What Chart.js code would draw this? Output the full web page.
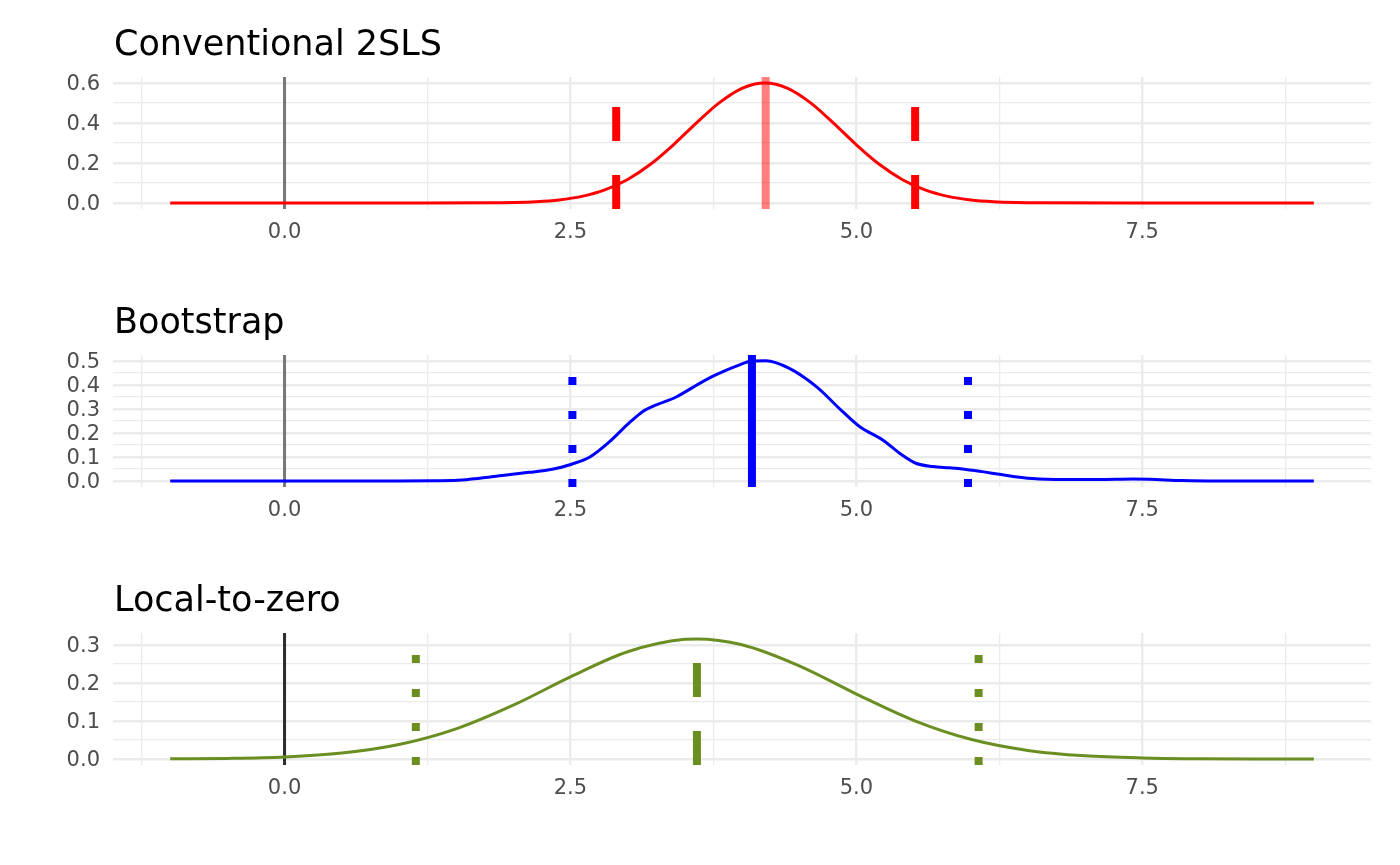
<!DOCTYPE html>
<html>
<head>
<meta charset="utf-8">
<script src="https://cdn.jsdelivr.net/npm/chart.js@4.4.1/dist/chart.umd.min.js"></script>
<style>
  body { margin: 0; background: #fff; }
  #wrap { position: relative; width: 1400px; height: 865px; }
  canvas { position: absolute; left: 0; }
</style>
</head>
<body>
<div id="wrap">
  <canvas id="c1" width="1400" height="278" style="top:0px"></canvas>
  <canvas id="c2" width="1400" height="278" style="top:278px"></canvas>
  <canvas id="c3" width="1400" height="309" style="top:556px"></canvas>
</div>
<script>
// ---- data ----
const xRange = [-1.5, 9.5];
const xTicks = [-1.25, 0, 1.25, 2.5, 3.75, 5, 6.25, 7.5, 8.75];
const xLabelled = [0, 2.5, 5, 7.5];

// Conventional 2SLS
const convX = [-1, 0, 1, 1.8, 2.0, 2.2, 2.4, 2.6, 2.8, 3.0, 3.2, 3.4, 3.6, 3.8, 4.0, 4.2,
               4.4, 4.6, 4.8, 5.0, 5.2, 5.4, 5.6, 5.8, 6.0, 6.2, 6.4, 6.6, 7.4, 8.2, 9];
const convY = [0, 0, 0, 0.0009, 0.0025, 0.0065, 0.0154, 0.0332, 0.0654, 0.1178, 0.1937, 0.291, 0.3994, 0.5007, 0.5735, 0.6,
               0.5735, 0.5007, 0.3994, 0.291, 0.1937, 0.1178, 0.0654, 0.0332, 0.0154, 0.0065, 0.0025, 0.0009, 0, 0, 0];
const convMid = 4.207;
const convCI = [2.90, 5.514];
const convYRange = [-0.03, 0.63];
const convYTicks = [0, 0.1, 0.2, 0.3, 0.4, 0.5, 0.6];
const convYLabelled = [0, 0.2, 0.4, 0.6];

// Bootstrap
const bootX = [-1, 0, 1.0, 1.3, 1.55, 1.85, 2.14, 2.34, 2.51, 2.67, 2.84, 3.02, 3.13, 3.25, 3.42, 3.63, 3.77, 3.95,
               4.09, 4.21, 4.41, 4.65, 4.88, 5.03, 5.23, 5.40, 5.52, 5.67, 5.81, 5.93, 6.10, 6.25, 6.54,
               6.83, 7.12, 7.42, 7.56, 7.85, 8.14, 9];
const bootY = [0, 0, 0, 0.001, 0.004, 0.02, 0.036, 0.049, 0.07, 0.10, 0.163, 0.245, 0.289, 0.317, 0.349, 0.407, 0.442, 0.479,
               0.50, 0.501, 0.47, 0.393, 0.289, 0.226, 0.171, 0.108, 0.074, 0.06, 0.055, 0.05, 0.039, 0.028, 0.010,
               0.006, 0.006, 0.008, 0.007, 0.002, 0, 0];
const bootMid = 4.087;
const bootCI = [2.517, 5.976];
const bootYRange = [-0.025, 0.525];
const bootYTicks = [0, 0.05, 0.1, 0.15, 0.2, 0.25, 0.3, 0.35, 0.4, 0.45, 0.5];
const bootYLabelled = [0, 0.1, 0.2, 0.3, 0.4, 0.5];

// Local-to-zero
const ltzX = [-1, -0.5, 0, 0.5, 1, 1.5, 2, 2.5, 3, 3.5, 3.6, 4, 4.5, 5, 5.5, 6, 6.5, 7, 7.5, 8, 8.5, 9];
const ltzY = [0.0004, 0.0016, 0.0054, 0.0155, 0.038, 0.0793, 0.1416, 0.2162, 0.2823, 0.315, 0.316, 0.3005,
              0.2451, 0.171, 0.1019, 0.0519, 0.0226, 0.0084, 0.0027, 0.0007, 0.0002, 0];
const ltzMid = 3.606;
const ltzCI = [1.148, 6.069];
const ltzYRange = [-0.0158, 0.3316];
const ltzYTicks = [0, 0.05, 0.1, 0.15, 0.2, 0.25, 0.3];
const ltzYLabelled = [0, 0.1, 0.2, 0.3];

// ---- drawing ----
const FONT = '"DejaVu Sans", "Liberation Sans", sans-serif';
const DASHED = [34, 34];
const DOTTED = [8, 26];

// title drawn at the left edge of the panel, like ggplot
const panelTitle = {
  id: 'panelTitle',
  afterDraw(chart, args, opts) {
    const c = chart.ctx;
    c.save();
    c.font = '35px ' + FONT;
    c.fillStyle = '#000';
    c.textBaseline = 'alphabetic';
    c.textAlign = 'left';
    c.fillText(opts.text, chart.chartArea.left + 1, chart.chartArea.top - 22);
    c.restore();
  }
};

function isIn(list, v) {
  return list.some(t => Math.abs(t - v) < 1e-9);
}

function vline(x, yr, color, width, dash, order) {
  return {
    data: [{ x: x, y: yr[0] }, { x: x, y: yr[1] }],
    borderColor: color,
    borderWidth: width,
    borderDash: dash,
    borderCapStyle: 'butt',
    tension: 0,
    pointRadius: 0,
    order: order
  };
}

function makePanel(id, p) {
  const canvas = document.getElementById(id);
  const datasets = [
    vline(0, p.yRange, p.zeroColor, 3, [], 5),
    {
      data: p.xs.map((x, i) => ({ x: x, y: p.ys[i] })),
      borderColor: p.color,
      borderWidth: 3,
      cubicInterpolationMode: 'monotone',
      pointRadius: 0,
      order: 4
    },
    vline(p.mid, p.yRange, p.midColor, 8, p.midDash, 2),
    vline(p.ci[0], p.yRange, p.color, 8, p.ciDash, 1),
    vline(p.ci[1], p.yRange, p.color, 8, p.ciDash, 1)
  ];

  new Chart(canvas, {
    type: 'line',
    data: { datasets: datasets },
    plugins: [panelTitle],
    options: {
      responsive: false,
      animation: false,
      layout: { padding: { top: 77, right: 29, left: 0, bottom: 0 } },
      plugins: {
        legend: { display: false },
        tooltip: { enabled: false },
        panelTitle: { text: p.title }
      },
      scales: {
        x: {
          type: 'linear',
          min: xRange[0],
          max: xRange[1],
          afterBuildTicks: s => { s.ticks = xTicks.map(v => ({ value: v })); },
          afterFit: s => { s.height = canvas.height - 209; },
          border: { display: false },
          grid: {
            drawTicks: false,
            color: '#EBEBEB',
            lineWidth: c => isIn(xLabelled, c.tick.value) ? 2.4 : 1.3
          },
          ticks: {
            autoSkip: false,
            maxRotation: 0,
            padding: 11,
            color: '#4D4D4D',
            font: { family: FONT, size: 21 },
            callback: v => isIn(xLabelled, v) ? v.toFixed(1) : ''
          }
        },
        y: {
          type: 'linear',
          min: p.yRange[0],
          max: p.yRange[1],
          afterBuildTicks: s => { s.ticks = p.yTicks.map(v => ({ value: v })); },
          afterFit: s => { s.width = 113; },
          border: { display: false },
          grid: {
            drawTicks: false,
            color: '#EBEBEB',
            lineWidth: c => isIn(p.yLabelled, c.tick.value) ? 2.4 : 1.3
          },
          ticks: {
            autoSkip: false,
            padding: 13,
            labelOffset: 2,
            color: '#4D4D4D',
            font: { family: FONT, size: 21 },
            callback: v => isIn(p.yLabelled, v) ? v.toFixed(1) : ''
          }
        }
      }
    }
  });
}

makePanel('c1', {
  title: 'Conventional 2SLS',
  xs: convX, ys: convY, color: '#FF0000',
  mid: convMid, midColor: 'rgba(255,0,0,0.5)', midDash: [],
  ci: convCI, ciDash: DASHED,
  yRange: convYRange, yTicks: convYTicks, yLabelled: convYLabelled,
  zeroColor: 'rgba(0,0,0,0.5)'
});

makePanel('c2', {
  title: 'Bootstrap',
  xs: bootX, ys: bootY, color: '#0000FF',
  mid: bootMid, midColor: '#0000FF', midDash: [],
  ci: bootCI, ciDash: DOTTED,
  yRange: bootYRange, yTicks: bootYTicks, yLabelled: bootYLabelled,
  zeroColor: 'rgba(0,0,0,0.5)'
});

makePanel('c3', {
  title: 'Local-to-zero',
  xs: ltzX, ys: ltzY, color: '#6B8E23',
  mid: ltzMid, midColor: '#6B8E23', midDash: DASHED,
  ci: ltzCI, ciDash: DOTTED,
  yRange: ltzYRange, yTicks: ltzYTicks, yLabelled: ltzYLabelled,
  zeroColor: 'rgba(0,0,0,0.82)'
});
</script>
</body>
</html>
